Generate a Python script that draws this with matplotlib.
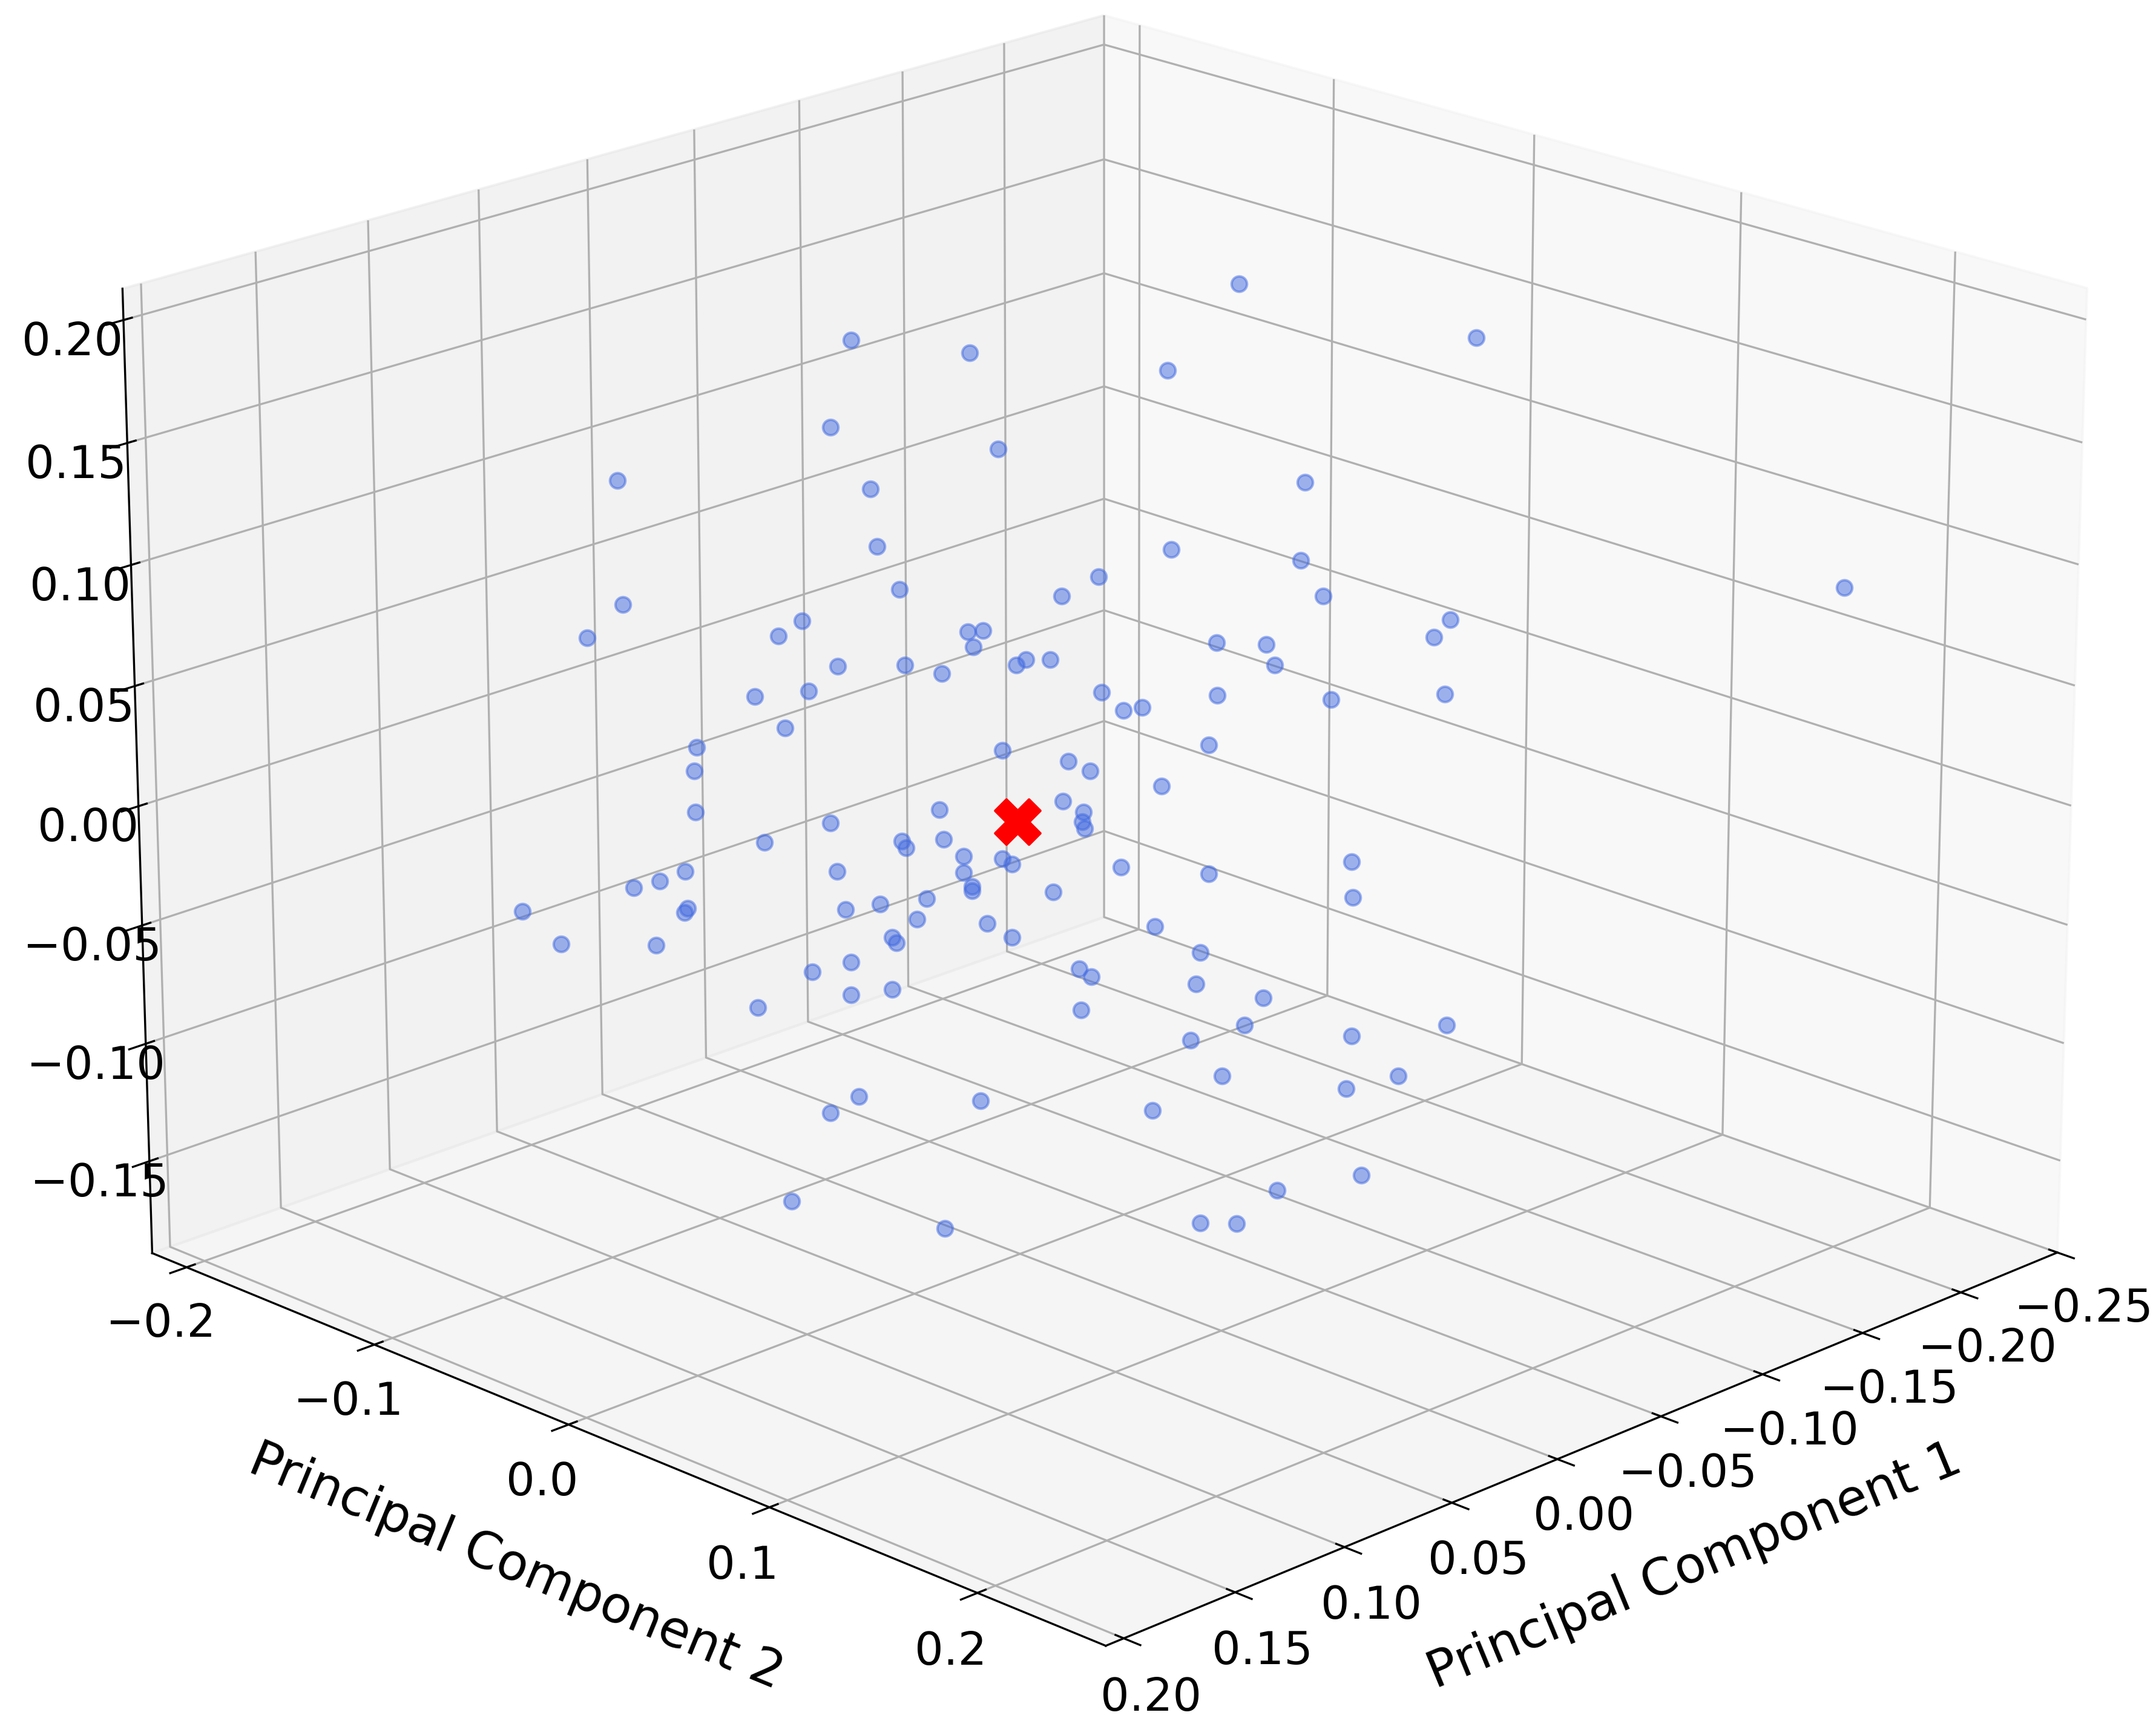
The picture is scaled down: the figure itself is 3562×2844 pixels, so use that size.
import matplotlib
matplotlib.use('Agg')
import matplotlib.pyplot as plt

pc1 = [-0.0528,-0.1096,0.0397,0.0115,-0.0358,0.0448,0.0047,0.0959,-0.0688,0.0354,0.0338,-0.0368,-0.0679,-0.1989,-0.0193,0.0286,-0.0104,-0.0733,0.0950,0.0521,-0.1041,0.0121,0.0085,0.0578,0.1038,-0.1002,-0.0478,-0.0598,0.0108,-0.0018,-0.0077,0.0006,0.0436,0.0274,-0.0618,0.0185,0.0506,0.0636,-0.0479,-0.1030,-0.0754,-0.0200,-0.0253,-0.0299,0.0564,-0.0459,0.0777,0.0039,0.0784,-0.0120,-0.0173,-0.0346,-0.0107,0.0193,0.0782,-0.0157,-0.0153,0.0456,-0.0160,0.0616,0.0283,0.0183,0.0273,0.0134,-0.0247,-0.0807,0.0040,0.0017,-0.0460,0.0810,0.0441,0.0134,0.0871,0.0934,0.0114,0.0114,-0.0083,0.0224,-0.0811,0.0338,0.0805,0.0421,0.0812,0.1205,0.0248,0.0078,-0.0330,0.0308,0.0298,0.0018,0.1113,0.0883,-0.0441,-0.0146,0.0409,0.0503,-0.0176,-0.0431,0.0309,0.0410,-0.0595,0.0637,-0.0150,-0.1042,-0.0549,-0.0811,-0.0418,-0.0495,-0.0926,-0.0798,0.0392,0.0096,-0.0324,0.0462,-0.0837,-0.0631,0.0559,-0.0443,-0.0531,0.0185]
pc2 = [0.0528,0.1096,-0.0397,-0.0115,0.0358,-0.0448,-0.0047,-0.0959,0.0688,-0.0354,-0.0338,0.0368,0.0679,0.1989,0.0193,-0.0286,0.0104,0.0733,-0.0950,-0.0521,0.1041,-0.0121,-0.0085,-0.0578,-0.1038,0.1002,0.0478,0.0598,-0.0108,0.0018,0.0077,-0.0006,-0.0436,-0.0274,0.0618,-0.0185,-0.0506,-0.0636,0.0479,0.1030,0.0754,0.0200,0.0253,0.0299,-0.0564,0.0459,-0.0777,-0.0039,-0.0784,0.0120,0.0173,0.0346,0.0107,-0.0193,-0.0782,0.0157,0.0153,-0.0456,0.0160,-0.0616,-0.0283,-0.0183,-0.0273,-0.0134,0.0247,0.0807,-0.0040,-0.0017,0.0460,-0.0810,-0.0441,-0.0134,-0.0871,-0.0934,-0.0114,-0.0114,0.0083,-0.0224,0.0811,-0.0338,-0.0805,-0.0421,-0.0812,-0.1205,-0.0248,-0.0078,0.0330,-0.0308,-0.0298,-0.0018,-0.1113,-0.0883,0.0441,0.0146,-0.0409,-0.0503,0.0176,0.0431,-0.0309,-0.0410,0.0595,-0.0637,0.0150,0.1042,0.0549,0.0811,0.0418,0.0495,0.0926,0.0798,-0.0392,-0.0096,0.0324,-0.0462,0.0837,0.0631,-0.0559,0.0443,0.0531,-0.0185]
pc3 = [0.2142,0.1918,0.1925,0.1871,0.1793,0.1573,0.1478,0.1360,0.1334,0.1319,0.1082,0.1062,0.1013,0.0883,0.0951,0.0906,0.0873,0.0865,0.0852,0.0779,0.0764,0.0728,0.0733,0.0717,0.0717,0.0691,0.0675,0.0668,0.0666,0.0613,0.0612,0.0590,0.0590,0.0594,0.0582,0.0558,0.0489,0.0467,0.0458,0.0457,0.0438,0.0474,0.0399,0.0409,0.0335,0.0253,0.0258,0.0237,0.0161,0.0189,0.0148,0.0083,0.0023,-0.0008,-0.0011,-0.0024,-0.0064,-0.0062,-0.0093,-0.0140,-0.0139,-0.0134,-0.0168,-0.0204,-0.0255,-0.0240,-0.0217,-0.0240,-0.0287,-0.0258,-0.0263,-0.0273,-0.0298,-0.0326,-0.0331,-0.0349,-0.0357,-0.0382,-0.0390,-0.0403,-0.0414,-0.0425,-0.0431,-0.0420,-0.0468,-0.0488,-0.0505,-0.0542,-0.0566,-0.0546,-0.0560,-0.0569,-0.0617,-0.0682,-0.0645,-0.0685,-0.0717,-0.0750,-0.0763,-0.0785,-0.0811,-0.0834,-0.0857,-0.0933,-0.0926,-0.0977,-0.0989,-0.1142,-0.1148,-0.1199,-0.1216,-0.1238,-0.1285,-0.1285,-0.1569,-0.1631,-0.1660,-0.1769,-0.1771,-0.1783]
centroid_pc1 = [0.0003]
centroid_pc2 = [-0.0003]
centroid_pc3 = [-0.0062]

pc1_ticks = [-0.25,-0.2,-0.15,-0.1,-0.05,0,0.05,0.1,0.15,0.2]
pc2_ticks = [-0.2,-0.1,0,0.1,0.2]
pc3_ticks = [-0.15,-0.1,-0.05,0,0.05,0.1,0.15,0.2]

fig = plt.figure(figsize=(3562/300, 2845/300), dpi=300)
ax = fig.add_axes([5.9254/3562, 97.3512/2845, 1, 1], projection='3d')
ax.set_xlim(-0.25, 0.208)
ax.set_ylim(-0.2187, 0.26)
ax.set_zlim(-0.1894, 0.2127)
ax.view_init(elev=19.94, azim=44.95)
ax.set_proj_type('persp', focal_length=1.2246)
ax.set_box_aspect((4, 4, 3), zoom=1.2344)
ax.set_xticks(pc1_ticks)
ax.set_yticks(pc2_ticks)
ax.set_zticks(pc3_ticks)
ax.tick_params(labelsize=18, pad=1.3)
ax.set_xlabel('Principal Component 1', fontsize=20, labelpad=11.5)
ax.set_ylabel('Principal Component 2', fontsize=20, labelpad=11.5)
ax.scatter(pc1, pc2, pc3, s=37, linewidths=1, c='royalblue', alpha=.5, depthshade=False)
ax.scatter(centroid_pc1, centroid_pc2, centroid_pc3, s=320, marker='X', c='red', depthshade=False)
fig.savefig('out.png')
